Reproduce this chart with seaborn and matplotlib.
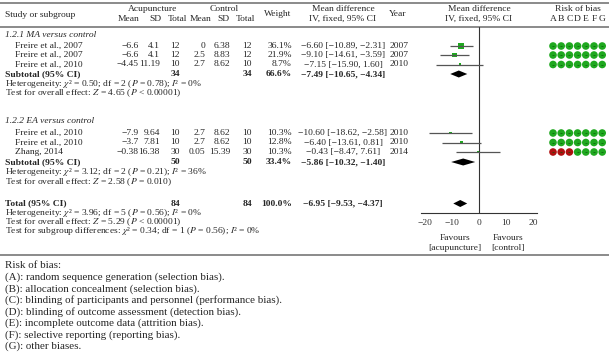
import numpy as np
import pandas as pd
import matplotlib
matplotlib.use("Agg")
import matplotlib.pyplot as plt
import seaborn as sns

sns.set_style("white")
plt.rcParams["font.family"] = "serif"
plt.rcParams["font.serif"] = ["Liberation Serif", "DejaVu Serif"]
plt.rcParams["mathtext.fontset"] = "stix"

# study data
studies = ["Freire et al., 2007", "Freire et al., 2007", "Freire et al., 2010",
           "Freire et al., 2010", "Freire et al., 2010", "Zhang, 2014"]
acu_mean = [-6.6, -6.6, -4.45, -7.9, -3.7, -0.38]
acu_sd = [4.1, 4.1, 11.19, 9.64, 7.81, 16.38]
acu_n = [12, 12, 10, 10, 10, 30]
ctl_mean = [0, 2.5, 2.7, 2.7, 2.7, 0.05]
ctl_sd = [6.38, 8.83, 8.62, 8.62, 8.62, 15.39]
ctl_n = [12, 12, 10, 10, 10, 30]
weight = [36.1, 21.9, 8.7, 10.3, 12.8, 10.3]
md = [-6.60, -9.10, -7.15, -10.60, -6.40, -0.43]
md_lo = [-10.89, -14.61, -15.90, -18.62, -13.61, -8.47]
md_hi = [-2.31, -3.59, 1.60, -2.58, 0.81, 7.61]
years = [2007, 2007, 2010, 2010, 2010, 2014]
rob = ["+++++++", "+++++++", "+++++++", "+++++++", "+++++++", "---++++"]

# subgroup + total
group_names = ["1.2.1 MA versus control", "1.2.2 EA versus control"]
sub_n = [34, 50]
sub_w = [66.6, 33.4]
sub_md = [-7.49, -5.86]
sub_lo = [-10.65, -10.32]
sub_hi = [-4.34, -1.40]
sub_het = [r"Heterogeneity: $\chi$² = 0.50; df = 2 ($P$ = 0.78); $I$² = 0%",
           r"Heterogeneity: $\chi$² = 3.12; df = 2 ($P$ = 0.21); $I$² = 36%"]
sub_test = [r"Test for overall effect: $Z$ = 4.65 ($P$ < 0.00001)",
            r"Test for overall effect: $Z$ = 2.58 ($P$ = 0.010)"]
tot_n = 84
tot_md, tot_lo, tot_hi = -6.95, -9.53, -4.37
tot_lines = [r"Heterogeneity: $\chi$² = 3.96; df = 5 ($P$ = 0.56); $I$² = 0%",
             r"Test for overall effect: $Z$ = 5.29 ($P$ < 0.00001)",
             r"Test for subgroup differences: $\chi$² = 0.34; df = 1 ($P$ = 0.56); $I$² = 0%"]
ticks = [-20, -10, 0, 10, 20]
rob_letters = list("ABCDEFG")
footnotes = ["Risk of bias:",
             "(A): random sequence generation (selection bias).",
             "(B): allocation concealment (selection bias).",
             "(C): blinding of participants and personnel (performance bias).",
             "(D): blinding of outcome assessment (detection bias).",
             "(E): incomplete outcome data (attrition bias).",
             "(F): selective reporting (reporting bias).",
             "(G): other biases."]

# layout (pixel rows)
W, H = 609, 352
study_y = [46, 55, 64.5, 133, 142.5, 152]
label_y = [35, 121]
subtot_y = [74, 162]
het_y = [84, 172]
test_y = [93.5, 182]
total_y = 203.5
tot_lines_y = [213, 222, 231]
fs = 6.8
green = "#1fa81f"
red = "#b01010"


def f(v, fmt="{:g}"):
    return fmt.format(v).replace("-", "\u2212")


def ci(m, lo, hi):
    return f"{f(m, '{:.2f}')} [{f(lo, '{:.2f}')}, {f(hi, '{:.2f}')}]"


fig = plt.figure(figsize=(W / 100, H / 100), dpi=100)
bg = fig.add_axes([0, 0, 1, 1])
bg.set_xlim(0, W)
bg.set_ylim(H, 0)
bg.axis("off")

# rules
for y in [3, 27, 255]:
    bg.plot([0, W], [y, y], color="#8a8a8a", lw=1.4)

# headers
bg.text(5, 15, "Study or subgroup", fontsize=fs, va="center")
bg.text(153, 9, "Acupuncture", fontsize=fs, va="center", ha="center")
bg.text(224, 9, "Control", fontsize=fs, va="center", ha="center")
for x, t in [(129, "Mean"), (155, "SD"), (177, "Total"), (201, "Mean"), (223, "SD"), (245, "Total")]:
    bg.text(x, 19, t, fontsize=fs, va="center", ha="center")
bg.text(278, 14, "Weight", fontsize=fs, va="center", ha="center")
bg.text(343, 9, "Mean difference", fontsize=fs, va="center", ha="center")
bg.text(343, 19, "IV, fixed, 95% CI", fontsize=fs, va="center", ha="center")
bg.text(398, 14, "Year", fontsize=fs, va="center", ha="center")
bg.text(479, 9, "Mean difference", fontsize=fs, va="center", ha="center")
bg.text(479, 19, "IV, fixed, 95% CI", fontsize=fs, va="center", ha="center")
bg.text(578, 9, "Risk of bias", fontsize=fs, va="center", ha="center")

# table body
for i, name in enumerate(studies):
    y = study_y[i]
    bg.text(15, y, name, fontsize=fs, va="center")
    row = [(139, f(acu_mean[i])), (160, f(acu_sd[i])), (180, str(acu_n[i])),
           (205, f(ctl_mean[i])), (230, f(ctl_sd[i])), (252, str(ctl_n[i])),
           (292, f"{weight[i]:.1f}%")]
    for x, t in row:
        bg.text(x, y, t, fontsize=fs, va="center", ha="right")
    bg.text(343, y, ci(md[i], md_lo[i], md_hi[i]), fontsize=fs, va="center", ha="center")
    bg.text(390, y, str(years[i]), fontsize=fs, va="center")

for g in range(2):
    bg.text(5, label_y[g], group_names[g], fontsize=fs, va="center", style="italic")
    y = subtot_y[g]
    bg.text(5, y, "Subtotal (95% CI)", fontsize=fs, va="center", weight="bold")
    bg.text(180, y, str(sub_n[g]), fontsize=fs, va="center", ha="right", weight="bold")
    bg.text(252, y, str(sub_n[g]), fontsize=fs, va="center", ha="right", weight="bold")
    bg.text(292, y, f"{sub_w[g]:.1f}%", fontsize=fs, va="center", ha="right", weight="bold")
    bg.text(343, y, ci(sub_md[g], sub_lo[g], sub_hi[g]), fontsize=fs, va="center",
            ha="center", weight="bold")
    bg.text(5, het_y[g], sub_het[g], fontsize=fs, va="center")
    bg.text(5, test_y[g], sub_test[g], fontsize=fs, va="center")

bg.text(5, total_y, "Total (95% CI)", fontsize=fs, va="center", weight="bold")
bg.text(180, total_y, str(tot_n), fontsize=fs, va="center", ha="right", weight="bold")
bg.text(252, total_y, str(tot_n), fontsize=fs, va="center", ha="right", weight="bold")
bg.text(292, total_y, "100.0%", fontsize=fs, va="center", ha="right", weight="bold")
bg.text(343, total_y, ci(tot_md, tot_lo, tot_hi), fontsize=fs, va="center",
        ha="center", weight="bold")
for t, y in zip(tot_lines, tot_lines_y):
    bg.text(5, y, t, fontsize=fs, va="center")

for k, t in enumerate(footnotes):
    bg.text(5, 266 + k * 11.5, t, fontsize=7.9, va="center")

# forest plot axes
x0, x1, ytop, ybot = 421, 537, 27, 213
fx = fig.add_axes([x0 / W, 1 - ybot / H, (x1 - x0) / W, (ybot - ytop) / H])
fx.set_xlim(-21.5, 21.5)
fx.set_ylim(ybot, ytop)
fx.patch.set_alpha(0)
for s in ["top", "right", "left"]:
    fx.spines[s].set_visible(False)
fx.spines["bottom"].set_color("#333333")
fx.spines["bottom"].set_linewidth(0.8)
fx.set_yticks([])
fx.set_xticks(ticks)
fx.set_xticklabels([f(t) for t in ticks], fontsize=fs)
fx.tick_params(axis="x", direction="inout", length=3, width=0.6, pad=3, colors="#333333")
fx.axvline(0, color="#333333", lw=0.8)

df = pd.DataFrame({"md": md, "lo": md_lo, "hi": md_hi, "w": weight, "y": study_y})
fx.hlines(df["y"], df["lo"], df["hi"], color="#555555", lw=0.9)
sns.scatterplot(data=df, x="md", y="y", size="w", sizes=(2, 16), size_norm=(8, 36.1),
                marker="s", color=green, edgecolor="none", legend=False, ax=fx)
fx.set_xlabel("")
fx.set_ylabel("")

dm = list(sub_md) + [tot_md]
dl = list(sub_lo) + [tot_lo]
dh = list(sub_hi) + [tot_hi]
for m, lo, hi, y in zip(dm, dl, dh, list(subtot_y) + [total_y]):
    fx.fill([lo, m, hi, m], [y, y - 3.5, y, y + 3.5], color="black", lw=0)

bg.text(455, 238, "Favours", fontsize=fs, va="center", ha="center")
bg.text(455, 248, "[acupuncture]", fontsize=fs, va="center", ha="center")
bg.text(508, 238, "Favours", fontsize=fs, va="center", ha="center")
bg.text(508, 248, "[control]", fontsize=fs, va="center", ha="center")

# risk of bias
rob_x = [553 + 8.2 * j for j in range(7)]
for j, L in enumerate(rob_letters):
    bg.text(rob_x[j], 19, L, fontsize=fs, va="center", ha="center")
rdf = pd.DataFrame([(rob_x[j], study_y[i], rob[i][j]) for i in range(len(studies))
                    for j in range(7)], columns=["x", "y", "r"])
sns.scatterplot(data=rdf, x="x", y="y", hue="r", palette={"+": green, "-": red},
                s=30, edgecolor="none", legend=False, ax=bg)
bg.scatter(rdf["x"], rdf["y"], marker=[(-1, 0), (1, 0)], s=4, color="#0a5a0a", lw=0.5)
bg.set_xlim(0, W)
bg.set_ylim(H, 0)
bg.axis("off")

fig.savefig("out.png", dpi=100, facecolor="white")
